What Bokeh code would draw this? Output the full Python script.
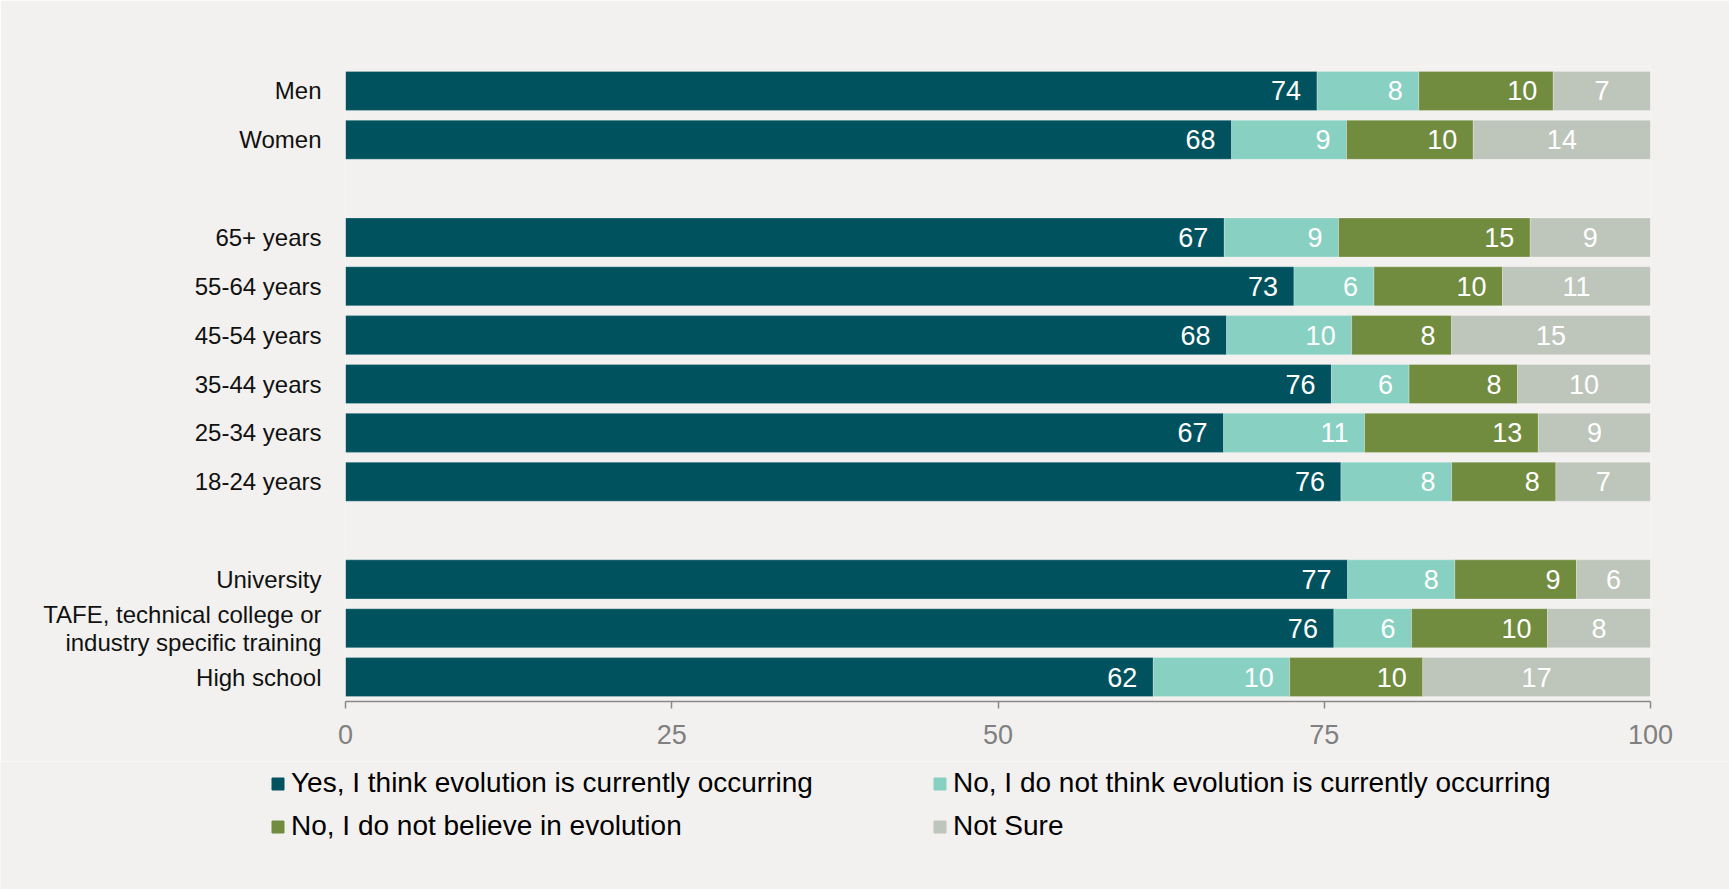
from bokeh.plotting import figure
from bokeh.models import (ColumnDataSource, Range1d, FactorRange, FixedTicker,
                          Legend, LegendItem)
from bokeh.core.properties import value
from bokeh.embed import file_html
from bokeh.resources import INLINE

# ---------------- data ----------------
gender_cats = ["Men", "Women"]
age_cats = ["65+ years", "55-64 years", "45-54 years", "35-44 years",
            "25-34 years", "18-24 years"]
edu_cats = ["University", "TAFE, technical college or\nindustry specific training",
            "High school"]
categories = gender_cats + age_cats + edu_cats

series_names = ["Yes, I think evolution is currently occurring",
                "No, I do not think evolution is currently occurring",
                "No, I do not believe in evolution",
                "Not Sure"]

yes_vals = [74.45, 67.90, 67.34, 72.68, 67.52, 75.55, 67.29, 76.28, 76.79, 75.74, 61.90]
nothink_vals = [7.80, 8.81, 8.76, 6.13, 9.58, 5.95, 10.80, 8.48, 8.22, 5.95, 10.45]
notbelieve_vals = [10.30, 9.71, 14.68, 9.85, 7.66, 8.31, 13.31, 7.99, 9.32, 10.42, 10.20]
notsure_vals = [7.45, 13.58, 9.22, 11.34, 15.24, 10.19, 8.60, 7.25, 5.67, 7.89, 17.45]

x_ticks = [0, 25, 50, 75, 100]

# ---------------- style ----------------
BG = "#f2f1ef"
COLORS = ["#00535e", "#88d0c2", "#728c3f", "#bec5ba"]
FONT = "Liberation Sans"
W = 1729

# factor order top->bottom with blank spacer rows between groups
factors = gender_cats + [" "] + age_cats + ["  "] + edu_cats

keys = ["yes", "nothink", "notbelieve", "notsure"]
vals = [yes_vals, nothink_vals, notbelieve_vals, notsure_vals]
src = ColumnDataSource(dict(cat=categories, yes=yes_vals, nothink=nothink_vals,
                            notbelieve=notbelieve_vals, notsure=notsure_vals))

p = figure(width=W, height=761,
           x_range=Range1d(0, 100),
           y_range=FactorRange(factors=list(reversed(factors)), range_padding=0),
           output_backend="svg", toolbar_location=None,
           min_border_left=345, min_border_right=79,
           min_border_top=66, min_border_bottom=60,
           background_fill_color=BG, border_fill_color=BG,
           outline_line_color=None)

renderers = p.hbar_stack(keys, y="cat", height=0.8, color=COLORS, source=src,
                         line_color="white", line_alpha=0.25, line_width=1)

# data labels
for i, (k, v) in enumerate(zip(keys, vals)):
    starts = [sum(vv[j] for vv in vals[:i]) for j in range(len(categories))]
    ends = [s + x for s, x in zip(starts, v)]
    labels = [f"{x:.0f}" for x in v]
    if i < 3:
        ls = ColumnDataSource(dict(x=ends, y=categories, t=labels))
        p.text(x="x", y="y", text="t", source=ls, text_align="right",
               text_baseline="middle", x_offset=-16,
               text_font=value(FONT), text_font_size="27px", text_color="white")
    else:
        mids = [(s + e) / 2 for s, e in zip(starts, ends)]
        ls = ColumnDataSource(dict(x=mids, y=categories, t=labels))
        p.text(x="x", y="y", text="t", source=ls, text_align="center",
               text_baseline="middle",
               text_font=value(FONT), text_font_size="27px", text_color="white")

# axes
p.xgrid.visible = False
p.ygrid.visible = False
xa = p.xaxis[0]
xa.ticker = FixedTicker(ticks=x_ticks)
xa.axis_line_color = "#8a8a8a"
xa.axis_line_width = 1.5
xa.major_tick_line_color = "#8a8a8a"
xa.major_tick_line_width = 1.5
xa.major_tick_out = 7
xa.major_tick_in = 0
xa.minor_tick_line_color = None
xa.major_label_text_font = FONT
xa.major_label_text_font_size = "27px"
xa.major_label_text_color = "#808080"
xa.major_label_standoff = 16

ya = p.yaxis[0]
ya.axis_line_color = None
ya.major_tick_line_color = None
ya.minor_tick_line_color = None
ya.major_tick_out = 0
ya.major_tick_in = 0
ya.major_label_standoff = 24
ya.major_label_text_font = FONT
ya.major_label_text_font_size = "24px"
ya.major_label_text_color = "#111111"
ya.major_label_text_line_height = 1.05

# ---------------- legend strip below (separate root, full-width frame) ----------------
p2 = figure(width=W, height=128, x_range=Range1d(0, 1), y_range=Range1d(0, 1),
            output_backend="svg", toolbar_location=None,
            x_axis_location=None, y_axis_location=None,
            min_border_left=0, min_border_right=0, min_border_top=0,
            min_border_bottom=0, background_fill_color=BG,
            border_fill_color=BG, outline_line_color=None)
p2.xgrid.visible = False
p2.ygrid.visible = False
# legend proxies: one bar each, placed outside the visible range
dummies = [p2.hbar(y=[-5], left=[-5], right=[-4], height=0.5, color=c) for c in COLORS]


def make_legend(idx, loc):
    items = [LegendItem(label=series_names[i], renderers=[dummies[i]]) for i in idx]
    return Legend(items=items, location=loc, orientation="vertical",
                  label_text_font=FONT, label_text_font_size="28px",
                  label_text_color="#000000", glyph_width=15, glyph_height=15,
                  label_standoff=6, label_height=32, spacing=11,
                  padding=0, margin=0, background_fill_alpha=0,
                  border_line_color=None)


p2.add_layout(make_legend([0, 2], (270, 47)), "center")
p2.add_layout(make_legend([1, 3], (932, 47)), "center")

open("out.html", "w").write(file_html([p, p2], INLINE))
